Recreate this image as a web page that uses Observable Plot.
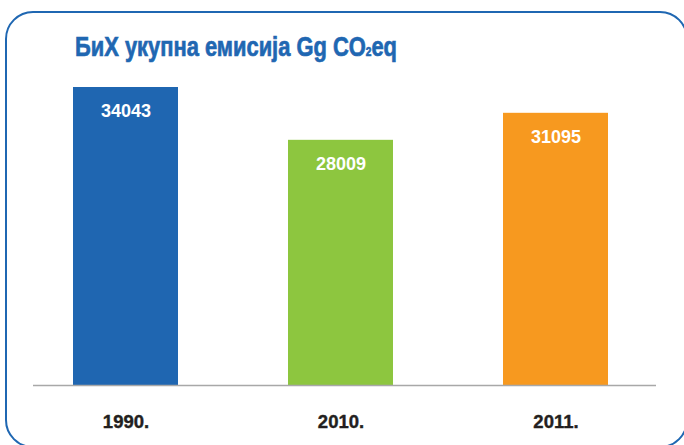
<!DOCTYPE html>
<html><head><meta charset="utf-8">
<script src="https://cdn.jsdelivr.net/npm/d3@7"></script>
<script src="https://cdn.jsdelivr.net/npm/@observablehq/plot@0.6"></script>
<style>
body{margin:0;background:#fff;overflow:hidden}
#wrap{position:relative;width:684px;height:445px;overflow:hidden}
#frame{position:absolute;left:5px;top:10.5px;width:683px;height:437px;border:2.5px solid #1f67b2;border-radius:28px;box-sizing:border-box}
#title{position:absolute;left:75px;top:33px;font-family:"Liberation Sans",Arial,sans-serif;font-weight:bold;font-size:28px;line-height:28px;color:#1f67b2;-webkit-text-stroke:0.7px #1f67b2;white-space:nowrap;transform-origin:0 0}
#title sub{font-size:13px;vertical-align:baseline}
#chart{position:absolute;left:0;top:0}
</style></head><body>
<div id="wrap"><div id="frame"></div><div id="title">БиХ укупна емисија Gg CO<sub>2</sub>eq</div><div id="chart"></div></div>
<script>
const years = ["1990.", "2010.", "2011."];
const values = [34043, 28009, 31095];
const colors = ["#1f66b1", "#8dc63f", "#f7991f"];
const data = years.map((y, i) => ({year: y, value: values[i], color: colors[i]}));
const font = '"Liberation Sans",Arial,sans-serif';
const chart = Plot.plot({
  width: 684, height: 445,
  marginLeft: 33, marginRight: 28, marginTop: 0, marginBottom: 60,
  style: {fontFamily: font, background: "transparent", overflow: "visible"},
  x: {domain: years, range: [18, 663], paddingInner: 0.512, paddingOuter: 0.256, axis: null},
  y: {domain: [0, 34043], range: [385, 87], axis: null},
  marks: [
    Plot.barY(data, {x: "year", y: "value", fill: "color"}),
    Plot.ruleY([0], {stroke: "#a8a8a8", strokeWidth: 1.5}),
    Plot.text(data, {x: "year", y: "value", text: d => String(d.value), dy: 24, fill: "white", fontSize: 18, fontWeight: "bold"}),
    Plot.text(data, {x: "year", y: 0, text: "year", dy: 37, fill: "#231f20", stroke: "#231f20", strokeWidth: 0.4, fontSize: 18.5, fontWeight: "bold"})
  ]
});
document.getElementById("chart").appendChild(chart);
const t = document.getElementById("title");
const w = t.getBoundingClientRect().width;
t.style.transform = `scaleX(${322 / w})`;
</script>
</body></html>
